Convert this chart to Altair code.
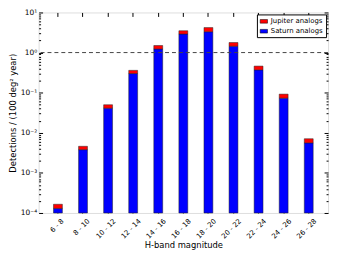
import altair as alt
import pandas as pd

categories = ["6 - 8", "8 - 10", "10 - 12", "12 - 14", "14 - 16", "16 - 18",
              "18 - 20", "20 - 22", "22 - 24", "24 - 26", "26 - 28"]
saturn = [1.3e-4, 3.8e-3, 0.041, 0.30, 1.23, 2.9, 3.3, 1.44, 0.37, 0.073, 0.0056]
total = [1.65e-4, 4.6e-3, 0.050, 0.36, 1.5, 3.5, 4.2, 1.78, 0.46, 0.092, 0.0071]
series_names = ["Jupiter analogs", "Saturn analogs"]
series_colors = ["#ff0000", "#0000ff"]
ymin, ymax = 1e-4, 10.0

rows = []
for c, s, t in zip(categories, saturn, total):
    rows.append({"cat": c, "series": "Saturn analogs", "low": ymin, "high": s})
    rows.append({"cat": c, "series": "Jupiter analogs", "low": s, "high": t})
df = pd.DataFrame(rows)
ref_df = pd.DataFrame({"y": [1.0]})

tick_vals = []
for e in range(-4, 1):
    for k in range(1, 10):
        tick_vals.append(k * 10.0 ** e)
tick_vals.append(10.0)

sup = {1: "¹", 0: "⁰", -1: "⁻¹", -2: "⁻²", -3: "⁻³", -4: "⁻⁴"}
E = "round(log(datum.value)/LN10)"
expr = "''"
for e, s in sup.items():
    expr = f"({E} == {e} ? '10{s}' : {expr})"
label_expr = f"abs(log(datum.value)/LN10 - {E}) > 0.001 ? '' : {expr}"
major_test = f"abs(log(datum.value)/LN10 - {E}) < 0.001"
tick_dash = {"condition": {"test": major_test, "value": []}, "value": [2, 2]}
x_label_offset = {
    "condition": [
        {"test": "length(datum.value) <= 5", "value": 2},
        {"test": "length(datum.value) == 6", "value": 3},
    ],
    "value": 4,
}

font = "DejaVu Sans"
yscale = alt.Scale(type="log", domain=[ymin, ymax], nice=False)
xscale = alt.Scale(paddingInner=0, paddingOuter=0.27)
TK = 4

bars = alt.Chart(df).mark_bar(width=9, stroke="#222222", strokeWidth=0.5).encode(
    x=alt.X("cat:N", sort=categories, scale=xscale,
            axis=alt.Axis(title="H-band magnitude", labelAngle=-45, labelAlign="right",
                          labelBaseline="top", labelFontSize=7, titleFontSize=8.5,
                          titleFontWeight="normal", labelOffset=x_label_offset,
                          labelColor="black", titleColor="black",
                          tickSize=TK, offset=-TK, labelPadding=4, titlePadding=1,
                          domain=False, grid=False, tickColor="black")),
    y=alt.Y("high:Q", scale=yscale,
            axis=alt.Axis(title="Detections / (100 deg² year)", values=tick_vals,
                          labelExpr=label_expr, tickSize=TK, offset=-TK,
                          tickDash=tick_dash, tickDashOffset=2, labelFontSize=7.5,
                          titleFontSize=8.5, titleFontWeight="normal",
                          labelColor="black", titleColor="black",
                          labelPadding=2, titlePadding=3,
                          domain=False, grid=False, tickColor="black")),
    y2="low:Q",
    color=alt.Color("series:N", scale=alt.Scale(domain=series_names, range=series_colors),
                    legend=alt.Legend(title=None, orient="top-right", offset=2,
                                      strokeColor="black", padding=3, labelFontSize=7,
                                      labelColor="black",
                                      symbolType="M-1,-0.5L1,-0.5L1,0.5L-1,0.5Z",
                                      symbolSize=55, symbolStrokeColor="black",
                                      symbolStrokeWidth=0.5, rowPadding=3, labelOffset=3,
                                      fillColor="white", labelFont=font)),
)

mirror = alt.Chart(df).mark_point(opacity=0).encode(
    x=alt.X("cat:N", sort=categories, scale=xscale,
            axis=alt.Axis(orient="top", labels=False, title=None, tickSize=TK, offset=-TK,
                          domain=False, grid=False, tickColor="black")),
    y=alt.Y("high:Q", scale=yscale,
            axis=alt.Axis(orient="right", labels=False, title=None, values=tick_vals,
                          tickSize=TK, offset=-TK, tickDash=tick_dash, tickDashOffset=2,
                          domain=False, grid=False, tickColor="black")),
)

rule = alt.Chart(ref_df).mark_rule(color="#444444", strokeDash=[4, 3], strokeWidth=1).encode(
    y=alt.Y("y:Q", scale=yscale, axis=None)
)

chart = alt.layer(bars, rule, mirror).resolve_axis(x="independent", y="independent").properties(
    width=293, height=203,
    autosize=alt.AutoSizeParams(type="none"),
    padding={"left": 31, "top": 3, "right": 4, "bottom": 40},
).configure_view(stroke="black", strokeWidth=1).configure(font=font)

chart.save("out.html", embed_options={"renderer": "svg", "actions": False})
